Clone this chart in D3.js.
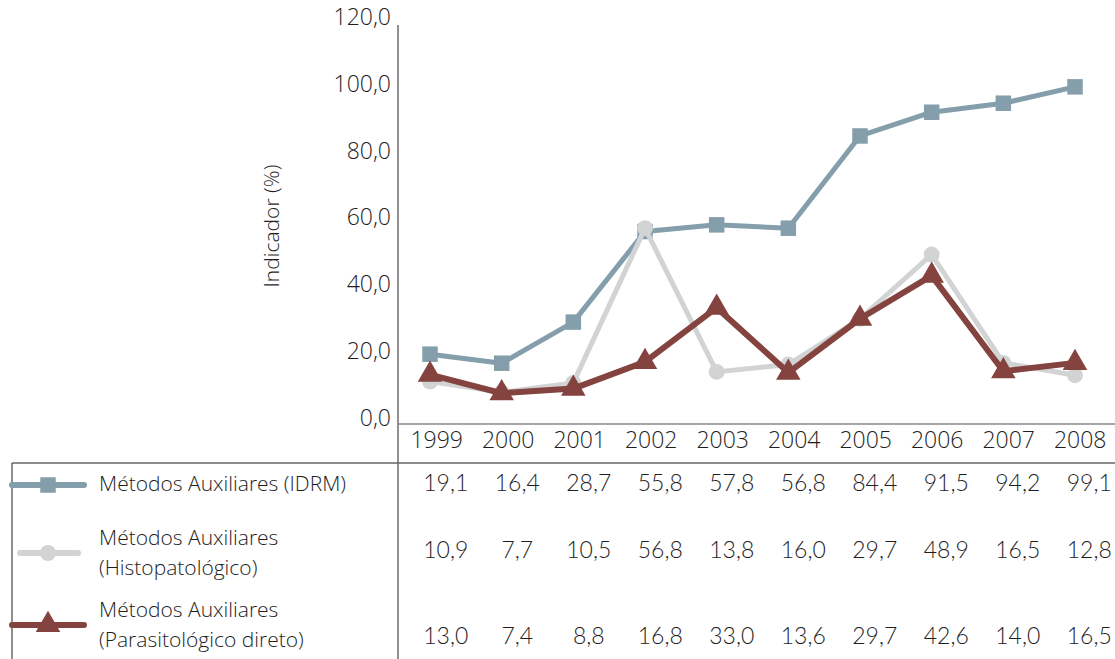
<!DOCTYPE html>
<html>
<head>
<meta charset="utf-8">
<script src="https://cdn.jsdelivr.net/npm/d3@7"></script>
<style>
  html, body { margin: 0; padding: 0; background: #fff; }
  svg { display: block; }
  text { font-family: Lato, sans-serif; fill: #222; }
  .lbl { font-family: "Open Sans", sans-serif; font-weight: 300; fill: #1e1e1e; }
  .num { font-family: Lato, sans-serif; font-weight: 300; fill: #1e1e1e; }
</style>
</head>
<body>
<svg id="chart" width="1115" height="659"></svg>
<script>
// Anos e séries (%)
const years = ["1999", "2000", "2001", "2002", "2003", "2004", "2005", "2006", "2007", "2008"];
const idrm = [19.1, 16.4, 28.7, 55.8, 57.8, 56.8, 84.4, 91.5, 94.2, 99.1];
const histo = [10.9, 7.7, 10.5, 56.8, 13.8, 16.0, 29.7, 48.9, 16.5, 12.8];
const parasito = [13.0, 7.4, 8.8, 16.8, 33.0, 13.6, 29.7, 42.6, 14.0, 16.5];
const yTicks = [0, 20, 40, 60, 80, 100, 120];

const seriesNames = [
  ["Métodos Auxiliares (IDRM)"],
  ["Métodos Auxiliares", "(Histopatológico)"],
  ["Métodos Auxiliares", "(Parasitológico direto)"]
];
const seriesValues = [idrm, histo, parasito];
const seriesColors = ["#849eab", "#d2d3d5", "#84433f"];
const seriesSymbols = [d3.symbolSquare, d3.symbolCircle, d3.symbolTriangle];
const symbolSizes = [240, 200, 260];

const ptBR = d3.formatLocale({ decimal: ",", thousands: ".", grouping: [3], currency: ["R$", ""] });
const fmt = ptBR.format(".1f");

const svg = d3.select("#chart");

const x = d3.scalePoint().domain(years).range([430, 1075]);
const col = d3.scaleBand().domain(years).range([400, 1115]);
const y = d3.scaleLinear().domain([0, 120]).range([418, 17]);

const axisX = 398;
const headerTop = 424;
const tableTop = 463;

// Eixo Y
const yAxis = svg.append("g")
  .attr("transform", `translate(${axisX},0)`)
  .call(d3.axisLeft(y).tickValues(yTicks).tickSize(0).tickPadding(7).tickFormat(fmt));
yAxis.attr("font-family", null).attr("font-size", null);
yAxis.select(".domain").remove();
yAxis.selectAll("text")
  .attr("class", "lbl")
  .attr("fill", null)
  .style("font-size", "23px");

svg.append("text")
  .attr("class", "lbl")
  .attr("transform", `translate(273,${226}) rotate(-90)`)
  .attr("text-anchor", "middle")
  .attr("dominant-baseline", "middle")
  .style("font-size", "21px")
  .text("Indicador (%)");

// Linhas da grade da tabela
svg.append("line")
  .attr("x1", axisX).attr("x2", axisX)
  .attr("y1", y(120) + 8).attr("y2", 659)
  .attr("stroke", "#555").attr("stroke-width", 1.3);
svg.append("line")
  .attr("x1", axisX).attr("x2", 1115)
  .attr("y1", headerTop).attr("y2", headerTop)
  .attr("stroke", "#8a8a8a").attr("stroke-width", 1.5);
svg.append("line")
  .attr("x1", 12).attr("x2", 1115)
  .attr("y1", tableTop).attr("y2", tableTop)
  .attr("stroke", "#666").attr("stroke-width", 1.5);
svg.append("line")
  .attr("x1", 12).attr("x2", 12)
  .attr("y1", tableTop).attr("y2", 659)
  .attr("stroke", "#444").attr("stroke-width", 1.2);

// Rótulos dos anos
svg.append("g").selectAll("text")
  .data(years)
  .join("text")
  .attr("class", "lbl")
  .attr("x", d => col(d) + col.bandwidth() / 2 + 1)
  .attr("y", 442)
  .attr("text-anchor", "middle")
  .attr("dominant-baseline", "middle")
  .style("font-size", "23px")
  .text(d => d);

// Séries
const line = d3.line().x((d, i) => x(years[i])).y(d => y(d));
const plot = svg.append("g");
seriesValues.forEach((vals, s) => {
  plot.append("path")
    .datum(vals)
    .attr("d", line)
    .attr("fill", "none")
    .attr("stroke", seriesColors[s])
    .attr("stroke-width", s === 2 ? 6 : 5)
    .attr("stroke-linejoin", "round");
  plot.append("g").selectAll("path")
    .data(vals)
    .join("path")
    .attr("transform", (d, i) => `translate(${x(years[i])},${y(d)})`)
    .attr("d", d3.symbol(seriesSymbols[s], symbolSizes[s]))
    .attr("fill", seriesColors[s]);
});

// Tabela: legenda e valores
const rowY = [485, 553, 625];
const textLines = [[485], [539, 569], [611, 641]];
const valueY = [485, 552, 638];
const legendLineX = [[12, 84], [20, 78], [12, 84]];

seriesValues.forEach((vals, s) => {
  svg.append("line")
    .attr("x1", legendLineX[s][0]).attr("x2", legendLineX[s][1])
    .attr("y1", rowY[s]).attr("y2", rowY[s])
    .attr("stroke", seriesColors[s])
    .attr("stroke-width", 6)
    .attr("stroke-linecap", "round");
  svg.append("path")
    .attr("transform", `translate(48,${rowY[s]})`)
    .attr("d", d3.symbol(seriesSymbols[s], symbolSizes[s])())
    .attr("fill", seriesColors[s]);
  seriesNames[s].forEach((t, k) => {
    svg.append("text")
      .attr("class", "lbl")
      .attr("x", 99)
      .attr("y", textLines[s][k])
      .attr("dominant-baseline", "middle")
      .style("font-size", "21px")
      .text(t);
  });
  svg.append("g").selectAll("text")
    .data(vals)
    .join("text")
    .attr("class", "num")
    .attr("x", (d, i) => col(years[i]) + col.bandwidth() / 2 + 10)
    .attr("y", valueY[s])
    .attr("text-anchor", "middle")
    .attr("dominant-baseline", "middle")
    .style("font-size", "23px")
    .text(d => fmt(d));
});
</script>
</body>
</html>
